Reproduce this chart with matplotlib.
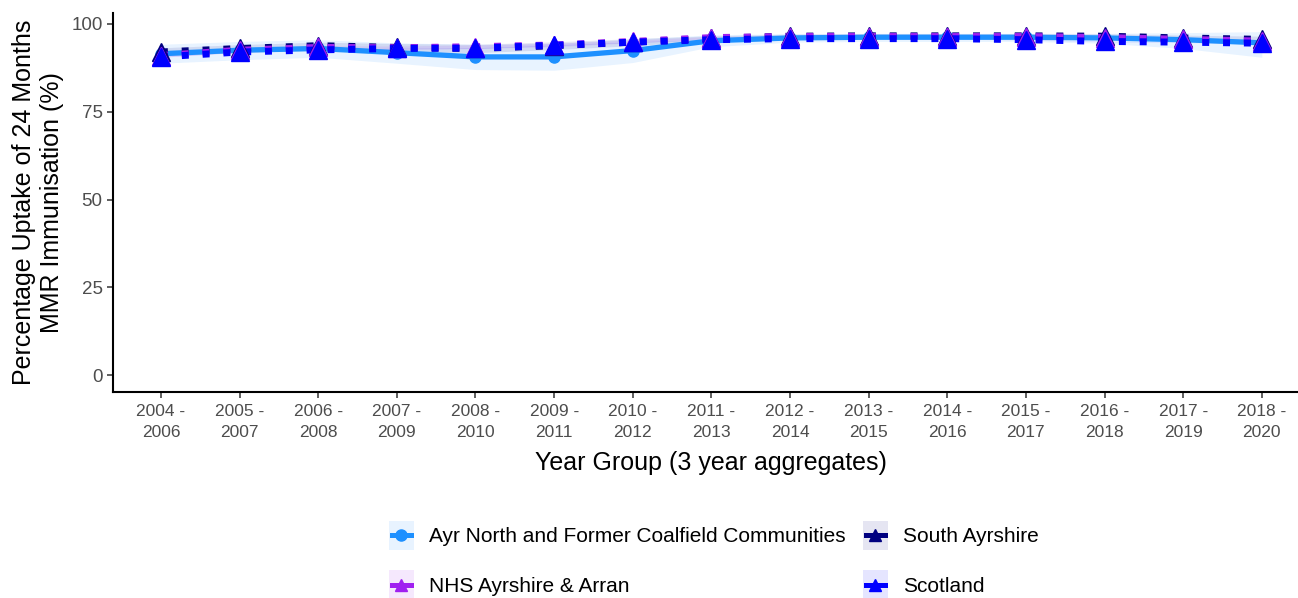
import matplotlib.pyplot as plt
import numpy as np
from matplotlib.lines import Line2D
from matplotlib.patches import Rectangle
from matplotlib.legend_handler import HandlerBase

plt.rcParams['font.family'] = ['Liberation Sans', 'DejaVu Sans']

# Year groups (3 year aggregates)
year_groups = ['2004 -\n2006', '2005 -\n2007', '2006 -\n2008', '2007 -\n2009', '2008 -\n2010',
               '2009 -\n2011', '2010 -\n2012', '2011 -\n2013', '2012 -\n2014', '2013 -\n2015',
               '2014 -\n2016', '2015 -\n2017', '2016 -\n2018', '2017 -\n2019', '2018 -\n2020']

# Ayr North and Former Coalfield Communities
ayr = [91.5, 92.5, 93.0, 91.8, 90.6, 90.6, 92.4, 95.2, 96.0, 96.2, 96.2, 96.2, 96.0, 95.5, 94.6]
ayr_low = [88.8, 89.8, 90.5, 88.8, 87.0, 86.8, 89.0, 93.5, 94.8, 95.0, 95.0, 95.0, 94.5, 93.0, 90.5]
ayr_high = [94.2, 95.0, 95.5, 94.6, 94.2, 94.4, 95.7, 96.9, 97.2, 97.3, 97.3, 97.3, 97.3, 97.5, 97.8]

# South Ayrshire
south = [92.0, 93.0, 93.8, 93.3, 93.0, 93.8, 94.8, 95.9, 96.5, 96.6, 96.6, 96.6, 96.5, 96.0, 95.6]
south_low = [90.8, 91.9, 92.8, 92.2, 91.8, 92.7, 93.8, 95.2, 95.9, 96.0, 96.0, 96.0, 95.8, 95.2, 94.7]
south_high = [93.2, 94.1, 94.8, 94.4, 94.2, 94.9, 95.8, 96.6, 97.1, 97.2, 97.2, 97.2, 97.2, 96.8, 96.5]

# NHS Ayrshire & Arran
nhs = [91.0, 92.5, 93.3, 93.2, 93.5, 94.0, 95.0, 96.1, 96.4, 96.4, 96.4, 96.4, 96.1, 95.6, 95.1]
nhs_low = [90.5, 92.0, 92.8, 92.7, 93.0, 93.5, 94.6, 95.8, 96.1, 96.1, 96.1, 96.1, 95.8, 95.2, 94.7]
nhs_high = [91.5, 93.0, 93.8, 93.7, 94.0, 94.5, 95.4, 96.4, 96.7, 96.7, 96.7, 96.7, 96.4, 96.0, 95.5]

# Scotland
scot = [90.6, 92.0, 92.6, 93.0, 93.1, 93.9, 94.8, 95.5, 95.8, 95.8, 95.8, 95.5, 95.0, 94.8, 94.5]
scot_low = [90.5, 91.9, 92.5, 92.9, 93.0, 93.8, 94.7, 95.4, 95.7, 95.7, 95.7, 95.4, 94.9, 94.7, 94.4]
scot_high = [90.7, 92.1, 92.7, 93.1, 93.2, 94.0, 94.9, 95.6, 95.9, 95.9, 95.9, 95.6, 95.1, 94.9, 94.6]

c_ayr = '#1E90FF'
c_south = '#000080'
c_nhs = '#A020F0'
c_scot = '#0000FF'

fig = plt.figure(figsize=(12.98, 5.98), dpi=100)
ax = fig.add_axes([113 / 1298, 1 - 392 / 598, (1309 - 113) / 1298, (392 - 13) / 598])

x = np.arange(len(year_groups))
dot = (0, (1.0, 2.0))

# ribbons
ax.fill_between(x, ayr_low, ayr_high, color=c_ayr, alpha=0.1, lw=0)
ax.fill_between(x, south_low, south_high, color=c_south, alpha=0.1, lw=0)
ax.fill_between(x, nhs_low, nhs_high, color=c_nhs, alpha=0.1, lw=0)
ax.fill_between(x, scot_low, scot_high, color=c_scot, alpha=0.1, lw=0)

# lines
ax.plot(x, ayr, color=c_ayr, lw=3.8, solid_capstyle='butt', zorder=3)
ax.plot(x, ayr, 'o', color=c_ayr, ms=8, zorder=3)
for vals, col in [(south, c_south), (nhs, c_nhs), (scot, c_scot)]:
    ax.plot(x, vals, color=col, lw=5.0, linestyle=dot, dash_capstyle='butt', zorder=4)
    ax.plot(x, vals, '^', color=col, ms=13, mec=col, zorder=5)

ax.set_xlim(-0.61, len(year_groups) - 1 + 0.6)
ax.set_ylim(-4.8, 103.1)
ax.set_xticks(x)
ax.set_xticklabels(year_groups, linespacing=1.45)
ax.set_yticks([0, 25, 50, 75, 100])

for s in ['top', 'right']:
    ax.spines[s].set_visible(False)
for s in ['left', 'bottom']:
    ax.spines[s].set_linewidth(1.5)
ax.tick_params(axis='both', labelsize=12.5, labelcolor='#4D4D4D', length=4, width=1.1, color='#333333')
ax.tick_params(axis='y', labelsize=13.5)
ax.tick_params(axis='x', pad=5)

ax.set_xlabel('Year Group (3 year aggregates)', fontsize=18, labelpad=8)
ax.set_ylabel('Percentage Uptake of 24 Months\nMMR Immunisation (%)', fontsize=18, labelpad=5,
              linespacing=1.2)


# legend key: tinted box with the line and marker on top
class KeyHandler(HandlerBase):
    def create_artists(self, legend, orig_handle, xdescent, ydescent, width, height, fontsize, trans):
        col, marker = orig_handle
        bg = Rectangle((-xdescent, -ydescent), width, height, facecolor=col, alpha=0.1,
                       edgecolor='none', transform=trans)
        y = -ydescent + height / 2
        ln = Line2D([-xdescent + 2, -xdescent + width - 2], [y, y], color=col, lw=3.6, transform=trans)
        mk = Line2D([-xdescent + width / 2], [y], color=col, marker=marker, ms=8, transform=trans)
        return [bg, ln, mk]


handles = [(c_ayr, 'o'), (c_nhs, '^'), (c_south, '^'), (c_scot, '^')]
labels = ['Ayr North and Former Coalfield Communities', 'NHS Ayrshire & Arran',
          'South Ayrshire', 'Scotland']
fig.legend(handles, labels, handler_map={tuple: KeyHandler()},
           loc='center', bbox_to_anchor=(714 / 1298, 1 - 560 / 598), ncol=2, frameon=False,
           fontsize=15, handlelength=1.2, handleheight=1.75, labelspacing=1.0,
           columnspacing=0.8, handletextpad=0.75, borderpad=0.2)

fig.savefig('out.png', dpi=100)
